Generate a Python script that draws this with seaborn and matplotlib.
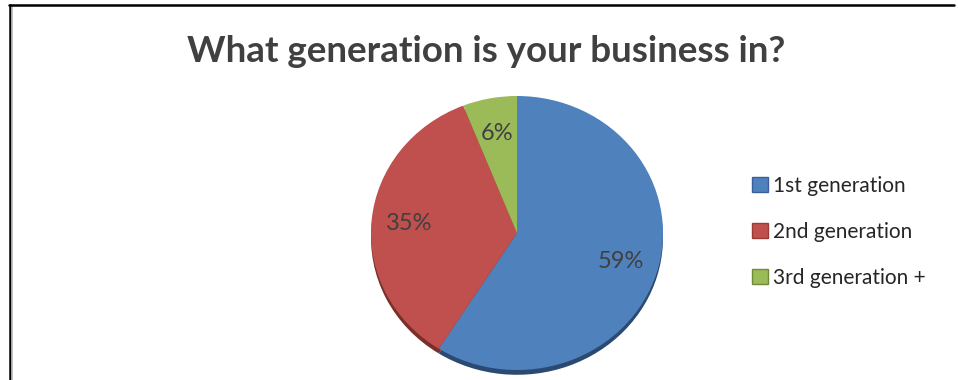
import matplotlib
matplotlib.use("Agg")
import matplotlib.pyplot as plt
import seaborn as sns
from matplotlib.lines import Line2D
from matplotlib.patches import Patch

# Survey answers: which generation runs the business
categories = ["1st generation", "2nd generation", "3rd generation +"]
shares = [59, 35, 6]
title = "What generation is your business in?"

colors = ["#4F81BD", "#C0504D", "#9BBB59"]
rim_colors = ["#2B4A72", "#7A2F2D", "#5F7432"]
edge_colors = ["#3A5F9A", "#9B3B38", "#71893B"]

sns.set_theme(style="white")
plt.rcParams["font.family"] = ["Lato", "DejaVu Sans"]

W, H = 958, 380
fig = plt.figure(figsize=(W / 100, H / 100), dpi=100)
fig.patch.set_facecolor("white")

# Pie axes: slightly flattened ellipse, centred right of middle
cx, cy, rx, ry = 517, 233, 146, 137
ax = fig.add_axes([(cx - rx) / W, (H - cy - ry) / H, 2 * rx / W, 2 * ry / H])

# Side rim of the tilted pie, visible just below the top face
ax.pie(shares, colors=rim_colors, startangle=90, counterclock=False,
       center=(0, -0.035), radius=1.0,
       wedgeprops=dict(linewidth=0))
wedges, texts, autotexts = ax.pie(
    shares, colors=colors, startangle=90, counterclock=False,
    autopct=lambda p: f"{p:.0f}%", pctdistance=0.74,
    wedgeprops=dict(linewidth=0.6, edgecolor="none"),
    textprops=dict(color="#404040", fontsize=17),
)
ax.set_aspect("auto")
ax.set_xlim(-1, 1)
ax.set_ylim(-1, 1)
ax.axis("off")

fig.text(486 / W, 1 - 51 / H, title, ha="center", va="center",
         fontsize=26.5, fontweight="bold", color="#404040")

handles = [Patch(facecolor=c, edgecolor=e, linewidth=1.0)
           for c, e in zip(colors, edge_colors)]
fig.legend(handles, categories, loc="center left",
           bbox_to_anchor=(752 / W, 1 - 232 / H), frameon=False,
           borderaxespad=0, borderpad=0,
           fontsize=15, handlelength=0.75, handleheight=0.75,
           handletextpad=0.25, labelspacing=1.25, labelcolor="#262626")

# Outer frame of the chart area
fig.add_artist(Line2D([9.5 / W, 9.5 / W], [0, 1 - 5 / H], color="black",
                      linewidth=1.8, transform=fig.transFigure))
fig.add_artist(Line2D([11.5 / W, 11.5 / W], [0, 1 - 6 / H], color="#B8B8B8",
                      linewidth=1.2, transform=fig.transFigure))
fig.add_artist(Line2D([9 / W, 954 / W], [1 - 5 / H, 1 - 5 / H], color="black",
                      linewidth=1.8, transform=fig.transFigure))

fig.savefig("out.png", dpi=100, facecolor="white")
